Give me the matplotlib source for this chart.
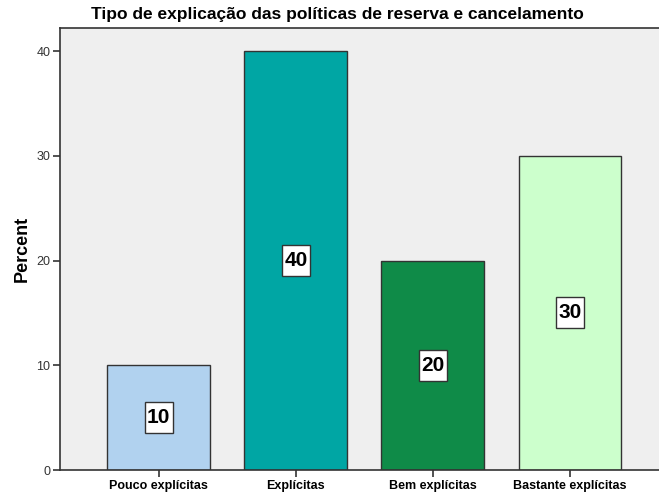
import matplotlib.pyplot as plt
import matplotlib.patches as mpatches
import matplotlib.transforms as mtransforms

# categories and percentages
categories = ["Pouco explícitas", "Explícitas", "Bem explícitas", "Bastante explícitas"]
percent = [10, 40, 20, 30]
bar_colors = ["#B1D2EF", "#00A6A4", "#0F8B48", "#CCFFCC"]
yticks = [0, 10, 20, 30, 40]

plt.rcParams['font.family'] = ['Liberation Sans', 'DejaVu Sans']

fig = plt.figure(figsize=(6.59, 4.94), dpi=100)
ax = fig.add_axes([60 / 659, 24 / 494, 599 / 659, 442 / 494])
ax.set_facecolor("#EFEFEF")

x = range(len(categories))
bars = ax.bar(x, percent, width=0.75, color=bar_colors, edgecolor="#333333", linewidth=1.0)

ax.set_xlim(-0.72, 3.65)
ax.set_ylim(0, 42.2)
ax.set_xticks(list(x))
ax.set_xticklabels(categories, fontsize=9, fontweight="bold")
ax.set_yticks(yticks)
ax.set_yticklabels([str(t) for t in yticks], fontsize=9, color="#333333")
ax.tick_params(axis="both", direction="out", length=5, width=1.2, color="#333333", pad=2)

for side in ["left", "bottom", "top"]:
    ax.spines[side].set_color("#333333")
    ax.spines[side].set_linewidth(1.2)
ax.spines["right"].set_visible(False)

ax.set_ylabel("Percent", fontsize=13, fontweight="bold")
ax.yaxis.set_label_coords(-29 / 599, 0.5)
fig.text(337 / 659, 1 - 15 / 494, "Tipo de explicação das políticas de reserva e cancelamento",
         ha="center", va="center", fontsize=12.5, fontweight="bold")

# value labels at mid-height of each bar, inside a white box (fixed size in pixels)
box_w, box_h = 28, 31
for i, v in enumerate(percent):
    ax.text(i, v / 2, str(v), ha="center", va="center", fontsize=15,
            fontweight="bold", zorder=5)
    cx, cy = ax.transData.transform((i, v / 2))
    box = mpatches.Rectangle((cx - box_w / 2, cy - box_h / 2), box_w, box_h,
                             transform=mtransforms.IdentityTransform(),
                             facecolor="white", edgecolor="#333333", linewidth=1, zorder=4)
    ax.add_artist(box)

fig.savefig("out.png", dpi=100)
